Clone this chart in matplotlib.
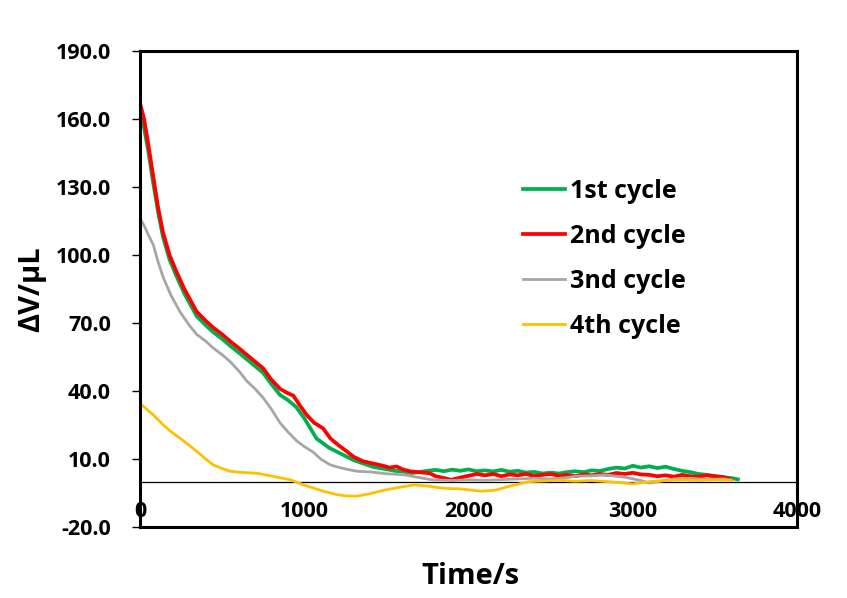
import matplotlib
matplotlib.use('Agg')
import matplotlib.pyplot as plt

plt.rcParams['font.family'] = ['Open Sans', 'DejaVu Sans']
plt.rcParams['font.weight'] = 'bold'

# 1st cycle
t1 = [0, 25, 50, 80, 110, 140, 180, 220, 270, 345, 400, 445, 500, 548, 600, 650, 700, 750, 800, 852,
      900, 950, 1000, 1075, 1150, 1237, 1300, 1360, 1420,
      1500, 1550, 1600, 1650, 1700, 1750, 1800, 1850, 1900, 1950, 2000, 2050, 2100, 2150, 2200, 2250,
      2300, 2350, 2400, 2450, 2500, 2550, 2600, 2650, 2700, 2750, 2800, 2850, 2900, 2950, 3000, 3050,
      3100, 3150, 3200, 3250, 3300, 3350, 3400, 3450, 3500, 3550, 3600, 3640]
v1 = [161, 156, 146, 132, 119, 108, 98, 91, 83, 73, 69, 66, 63, 60, 57, 54, 51, 48, 43, 38.3,
      36, 33, 28, 19, 15, 11.8, 9.5, 8, 6.5,
      5.5, 4.8, 4.5, 3.8, 4.2, 4.8, 5.2, 4.6, 5.3, 4.8, 5.4, 4.6, 5.0, 4.5, 5.2, 4.4,
      4.8, 4.0, 4.3, 3.6, 4.0, 3.6, 4.2, 4.6, 4.2, 5.0, 4.7, 5.6, 6.2, 5.8, 7.0, 6.2,
      6.8, 6.0, 6.6, 5.6, 4.8, 4.2, 3.4, 3.0, 2.4, 2.0, 1.6, 1.0]

# 2nd cycle
t2 = [0, 25, 50, 80, 110, 140, 180, 220, 270, 345, 400, 445, 500, 548, 600, 650, 700, 750, 800, 852,
      900, 933, 970, 1014, 1060, 1115, 1160, 1210, 1258, 1300, 1358, 1420,
      1480, 1520, 1562, 1600, 1650, 1700, 1765, 1800, 1850, 1895, 1950, 2000, 2050, 2100, 2150, 2200,
      2250, 2300, 2350, 2400, 2450, 2500, 2550, 2600, 2650, 2700, 2750, 2800, 2850, 2900, 2950, 3000,
      3050, 3100, 3150, 3200, 3250, 3300, 3350, 3400, 3450, 3500, 3550, 3600]
v2 = [167, 160, 149, 135, 121, 110, 100, 93, 85, 75, 71, 68, 65, 62, 59, 56, 53, 50, 45, 41,
      39, 38, 34, 29.5, 26, 23.5, 19, 16, 13.4, 11, 9, 8,
      7, 6.2, 6.7, 5.4, 4.5, 4.2, 3.7, 2.4, 1.6, 0.8, 1.8, 2.6, 3.4, 2.8, 3.4, 2.4,
      3.2, 2.8, 3.4, 2.5, 3.0, 3.4, 2.6, 3.0, 2.4, 3.2, 2.8, 3.4, 3.0, 3.8, 3.4, 3.9,
      3.2, 3.0, 2.4, 2.8, 2.2, 3.0, 2.4, 2.2, 2.8, 2.4, 2.0, 1.0]

# 3nd cycle
t3 = [0, 25, 50, 81, 110, 142, 190, 243, 300, 345, 400, 445, 500, 548, 600, 649, 700, 750, 800, 852,
      900, 954, 1000, 1055, 1100, 1156, 1200, 1258, 1321, 1400, 1500, 1612, 1700, 1780, 1900, 2000,
      2100, 2200, 2300, 2400, 2500, 2600, 2655, 2750, 2830, 2950, 3050, 3100, 3150, 3250, 3350, 3450,
      3550, 3600]
v3 = [116, 113, 109, 104.5, 97, 90, 82, 75, 69, 65, 62, 59, 56, 53, 49, 44.5, 41, 37, 32, 26,
      22, 18, 15.5, 13, 10, 7.5, 6.5, 5.5, 4.6, 4.3, 3.5, 3, 1.8, 0.8, 0.5, 0.8,
      0.6, 0.9, 1.2, 1.5, 1.2, 1.8, 2.4, 2.6, 3, 2, 0.5, -0.6, 0, 1.2, 1.5, 1,
      1.2, 0.8]

# 4th cycle
t4 = [0, 40, 80, 142, 190, 243, 300, 345, 400, 445, 500, 548, 600, 712, 800, 916, 1000, 1060, 1130,
      1205, 1260, 1321, 1400, 1496, 1580, 1670, 1760, 1845, 1950, 2076, 2160, 2249, 2365, 2450, 2550,
      2650, 2750, 2850, 2950, 3000, 3100, 3200, 3300, 3400, 3500, 3600]
v4 = [34.5, 32, 29.5, 25, 22, 19.2, 16, 13.4, 10, 7.4, 5.8, 4.6, 4.2, 3.7, 2.5, 0.8, -1.5, -2.9, -4.5,
      -5.8, -6.3, -6.4, -5.3, -3.6, -2.5, -1.4, -2, -2.9, -3.2, -4.2, -3.8, -2, 0, 0.3, 0.6,
      0.2, 0.5, 0, -0.6, -1, 0, 0.5, 0.8, 0.5, 0.8, 0.5]

labels = ['1st cycle', '2nd cycle', '3nd cycle', '4th cycle']
colors = ['#00B050', '#FF0000', '#A6A6A6', '#FFC000']
yticks = [-20, 10, 40, 70, 100, 130, 160, 190]
xticks = [0, 1000, 2000, 3000, 4000]

fig = plt.figure(figsize=(8.47, 5.98), dpi=100)
ax = fig.add_axes([140 / 847, 1 - 527 / 598, (797 - 140) / 847, (527 - 51) / 598])

ax.plot(t1, v1, color=colors[0], lw=2.7, label=labels[0])
ax.plot(t2, v2, color=colors[1], lw=2.7, label=labels[1])
ax.plot(t3, v3, color=colors[2], lw=2.0, label=labels[2])
ax.plot(t4, v4, color=colors[3], lw=2.0, label=labels[3])
ax.axhline(0, color='black', lw=0.9, zorder=1)

ax.set_xlim(0, 4000)
ax.set_ylim(-20, 190)
ax.set_xticks(xticks)
ax.set_xticklabels([str(x) for x in xticks])
ax.set_yticks(yticks)
ax.set_yticklabels(['%.1f' % y for y in yticks])
ax.tick_params(axis='x', length=0, pad=-19, labelsize=15.5)
ax.tick_params(axis='y', direction='out', length=6, width=1, pad=15, labelsize=15.5)
for s in ax.spines.values():
    s.set_linewidth(2.2)

ax.set_xlabel('Time/s', fontsize=21, fontweight='bold', va='center')
ax.xaxis.set_label_coords(0.503, (527 - 576) / 476)
ax.set_ylabel('ΔV/μL', fontsize=21, fontweight='bold', va='center')
ax.yaxis.set_label_coords((32 - 140) / 657, 0.5)

fig.legend(loc='center left', bbox_to_anchor=(523 / 847, 1 - 259 / 598), frameon=False,
           fontsize=18, handlelength=1.68, handletextpad=0.2, labelspacing=0.8,
           borderpad=0, borderaxespad=0)

fig.savefig('out.png', dpi=100)
